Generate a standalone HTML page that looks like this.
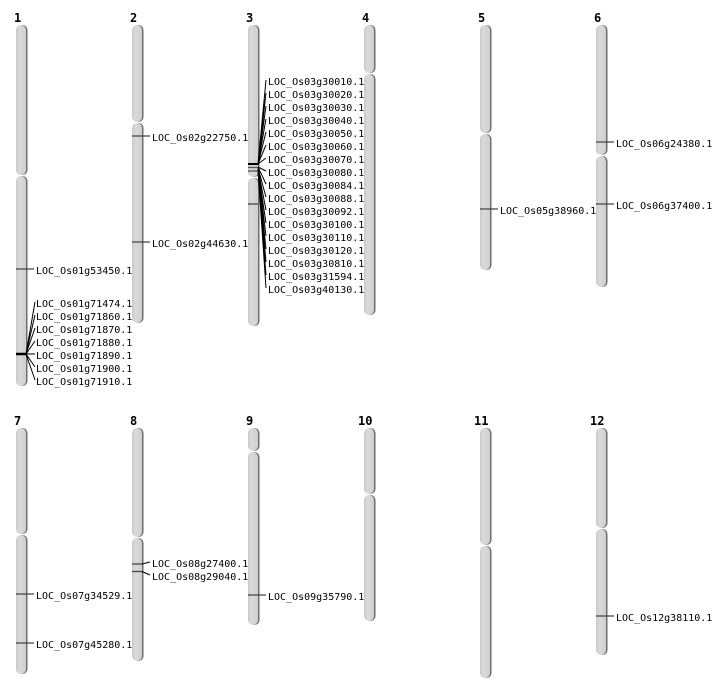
<!DOCTYPE html>
<html><head><meta charset="utf-8"><style>
html,body{margin:0;padding:0;background:#fff;}
svg{display:block;}
text{font-family:"DejaVu Sans Mono","Liberation Mono",monospace;font-size:10px;fill:#000;}
.n{font-size:12px;font-weight:bold;}
.sh{fill:#6e6e6e;}
.ch{fill:url(#g);}
.m{stroke:#444;stroke-width:1.3;fill:none;}
.f{stroke:#000;stroke-width:1;fill:none;}
</style></head><body>
<svg width="712" height="700" viewBox="0 0 712 700" xmlns="http://www.w3.org/2000/svg">
<defs>
<linearGradient id="g" x1="0" x2="1" y1="0" y2="0">
<stop offset="0" stop-color="#c9c9c9"/><stop offset="0.35" stop-color="#dadada"/><stop offset="1" stop-color="#cfcfcf"/>
</linearGradient>
</defs>
<g id="chroms">
<!-- chr1 -->
<rect class="sh" x="17.5" y="25" width="10" height="150" rx="5"/><rect class="ch" x="16" y="25" width="10" height="150" rx="5"/>
<rect class="sh" x="17.5" y="176" width="10" height="210" rx="5"/><rect class="ch" x="16" y="176" width="10" height="210" rx="5"/>
<!-- chr2 -->
<rect class="sh" x="133.5" y="25" width="10" height="97" rx="5"/><rect class="ch" x="132" y="25" width="10" height="97" rx="5"/>
<rect class="sh" x="133.5" y="123" width="10" height="200" rx="5"/><rect class="ch" x="132" y="123" width="10" height="200" rx="5"/>
<!-- chr3 -->
<rect class="sh" x="249.5" y="25" width="10" height="152" rx="5"/><rect class="ch" x="248" y="25" width="10" height="152" rx="5"/>
<rect class="sh" x="249.5" y="178" width="10" height="148" rx="5"/><rect class="ch" x="248" y="178" width="10" height="148" rx="5"/>
<!-- chr4 -->
<rect class="sh" x="365.5" y="25" width="10" height="48" rx="5"/><rect class="ch" x="364" y="25" width="10" height="48" rx="5"/>
<rect class="sh" x="365.5" y="74" width="10" height="241" rx="5"/><rect class="ch" x="364" y="74" width="10" height="241" rx="5"/>
<!-- chr5 -->
<rect class="sh" x="481.5" y="25" width="10" height="108" rx="5"/><rect class="ch" x="480" y="25" width="10" height="108" rx="5"/>
<rect class="sh" x="481.5" y="134" width="10" height="136" rx="5"/><rect class="ch" x="480" y="134" width="10" height="136" rx="5"/>
<!-- chr6 -->
<rect class="sh" x="597.5" y="25" width="10" height="130" rx="5"/><rect class="ch" x="596" y="25" width="10" height="130" rx="5"/>
<rect class="sh" x="597.5" y="156" width="10" height="131" rx="5"/><rect class="ch" x="596" y="156" width="10" height="131" rx="5"/>
<!-- chr7 -->
<rect class="sh" x="17.5" y="428" width="10" height="106" rx="5"/><rect class="ch" x="16" y="428" width="10" height="106" rx="5"/>
<rect class="sh" x="17.5" y="535" width="10" height="139" rx="5"/><rect class="ch" x="16" y="535" width="10" height="139" rx="5"/>
<!-- chr8 -->
<rect class="sh" x="133.5" y="428" width="10" height="109" rx="5"/><rect class="ch" x="132" y="428" width="10" height="109" rx="5"/>
<rect class="sh" x="133.5" y="538" width="10" height="123" rx="5"/><rect class="ch" x="132" y="538" width="10" height="123" rx="5"/>
<!-- chr9 -->
<rect class="sh" x="249.5" y="428" width="10" height="23" rx="5"/><rect class="ch" x="248" y="428" width="10" height="23" rx="5"/>
<rect class="sh" x="249.5" y="452" width="10" height="173" rx="5"/><rect class="ch" x="248" y="452" width="10" height="173" rx="5"/>
<!-- chr10 -->
<rect class="sh" x="365.5" y="428" width="10" height="66" rx="5"/><rect class="ch" x="364" y="428" width="10" height="66" rx="5"/>
<rect class="sh" x="365.5" y="495" width="10" height="126" rx="5"/><rect class="ch" x="364" y="495" width="10" height="126" rx="5"/>
<!-- chr11 -->
<rect class="sh" x="481.5" y="428" width="10" height="117" rx="5"/><rect class="ch" x="480" y="428" width="10" height="117" rx="5"/>
<rect class="sh" x="481.5" y="546" width="10" height="132" rx="5"/><rect class="ch" x="480" y="546" width="10" height="132" rx="5"/>
<!-- chr12 -->
<rect class="sh" x="597.5" y="428" width="10" height="100" rx="5"/><rect class="ch" x="596" y="428" width="10" height="100" rx="5"/>
<rect class="sh" x="597.5" y="529" width="10" height="126" rx="5"/><rect class="ch" x="596" y="529" width="10" height="126" rx="5"/>
</g>

<!-- numbers -->
<text class="n" x="14" y="22">1</text>
<text class="n" x="130" y="22">2</text>
<text class="n" x="246" y="22">3</text>
<text class="n" x="362" y="22">4</text>
<text class="n" x="478" y="22">5</text>
<text class="n" x="594" y="22">6</text>
<text class="n" x="14" y="425">7</text>
<text class="n" x="130" y="425">8</text>
<text class="n" x="246" y="425">9</text>
<text class="n" x="358" y="425">10</text>
<text class="n" x="474" y="425">11</text>
<text class="n" x="590" y="425">12</text>

<!-- chr1 markers -->
<line class="m" x1="16" y1="269" x2="34" y2="269"/>
<text x="36" y="274">LOC_Os01g53450.1</text>
<line x1="16" y1="354" x2="27" y2="354" stroke="#000" stroke-width="2.5"/>
<path class="f" d="M26 354L35 302M26 354L35 315M26 354L35 328M26 354L35 341M26 354L35 354M26 354L35 367M26 354L35 380"/>
<text x="36" y="307">LOC_Os01g71474.1</text>
<text x="36" y="320">LOC_Os01g71860.1</text>
<text x="36" y="333">LOC_Os01g71870.1</text>
<text x="36" y="346">LOC_Os01g71880.1</text>
<text x="36" y="359">LOC_Os01g71890.1</text>
<text x="36" y="372">LOC_Os01g71900.1</text>
<text x="36" y="385">LOC_Os01g71910.1</text>

<!-- chr2 -->
<line class="m" x1="132" y1="136" x2="150" y2="136"/>
<text x="152" y="141">LOC_Os02g22750.1</text>
<line class="m" x1="132" y1="242" x2="150" y2="242"/>
<text x="152" y="247">LOC_Os02g44630.1</text>

<!-- chr3 -->
<line x1="248" y1="164" x2="259" y2="164" stroke="#000" stroke-width="2"/>
<line x1="248" y1="167.5" x2="258" y2="167.5" stroke="#555" stroke-width="1.3"/>
<line x1="248" y1="171" x2="258" y2="171" stroke="#555" stroke-width="1.3"/>
<line class="m" x1="248" y1="204" x2="258" y2="204"/>
<path class="f" d="M258 164L266 80M258 164L266 93M258 164L266 106M258 164L266 119M258 164L266 132M258 164L266 145M258 164L266 158M258 167L266 171M258 167L266 184M258 168L266 197M258 169L266 210M258 170L266 223M258 170L266 236M258 171L266 249M258 171L266 262M258 171L266 275M258 171L266 288"/>
<text x="268" y="85">LOC_Os03g30010.1</text>
<text x="268" y="98">LOC_Os03g30020.1</text>
<text x="268" y="111">LOC_Os03g30030.1</text>
<text x="268" y="124">LOC_Os03g30040.1</text>
<text x="268" y="137">LOC_Os03g30050.1</text>
<text x="268" y="150">LOC_Os03g30060.1</text>
<text x="268" y="163">LOC_Os03g30070.1</text>
<text x="268" y="176">LOC_Os03g30080.1</text>
<text x="268" y="189">LOC_Os03g30084.1</text>
<text x="268" y="202">LOC_Os03g30088.1</text>
<text x="268" y="215">LOC_Os03g30092.1</text>
<text x="268" y="228">LOC_Os03g30100.1</text>
<text x="268" y="241">LOC_Os03g30110.1</text>
<text x="268" y="254">LOC_Os03g30120.1</text>
<text x="268" y="267">LOC_Os03g30810.1</text>
<text x="268" y="280">LOC_Os03g31594.1</text>
<text x="268" y="293">LOC_Os03g40130.1</text>

<!-- chr5 -->
<line class="m" x1="480" y1="209" x2="498" y2="209"/>
<text x="500" y="214">LOC_Os05g38960.1</text>

<!-- chr6 -->
<line class="m" x1="596" y1="142" x2="614" y2="142"/>
<text x="616" y="147">LOC_Os06g24380.1</text>
<line class="m" x1="596" y1="204" x2="614" y2="204"/>
<text x="616" y="209">LOC_Os06g37400.1</text>

<!-- chr7 -->
<line class="m" x1="16" y1="594" x2="34" y2="594"/>
<text x="36" y="599">LOC_Os07g34529.1</text>
<line class="m" x1="16" y1="643" x2="34" y2="643"/>
<text x="36" y="648">LOC_Os07g45280.1</text>

<!-- chr8 -->
<line class="m" x1="132" y1="564" x2="142" y2="564"/>
<line class="m" x1="132" y1="571.5" x2="142" y2="571.5"/>
<path class="f" d="M142 564L150 562M142 571.5L150 575"/>
<text x="152" y="567">LOC_Os08g27400.1</text>
<text x="152" y="580">LOC_Os08g29040.1</text>

<!-- chr9 -->
<line class="m" x1="248" y1="595" x2="266" y2="595"/>
<text x="268" y="600">LOC_Os09g35790.1</text>

<!-- chr12 -->
<line class="m" x1="596" y1="616" x2="614" y2="616"/>
<text x="616" y="621">LOC_Os12g38110.1</text>
</svg>
</body></html>
